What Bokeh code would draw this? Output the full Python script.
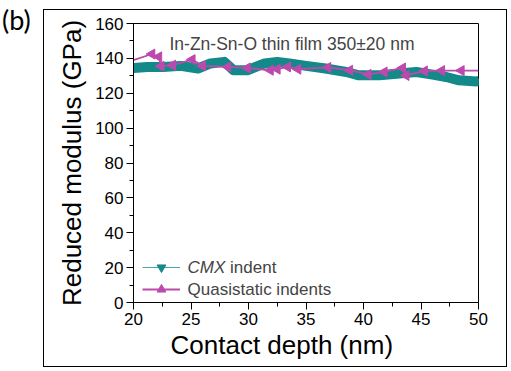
import math
from bokeh.plotting import figure
from bokeh.layouts import row
from bokeh.models import (Range1d, SingleIntervalTicker, Label, Legend, LegendItem, Div, Title)
from bokeh.core.properties import value
from bokeh.embed import file_html
from bokeh.resources import INLINE

# CMX indent (dense band, read as centre line)
cmx_depth = [20.0, 21.2, 22.6, 24.1, 25.6, 26.7, 27.9, 28.7, 29.9, 31.4, 32.5, 33.7,
             35.0, 36.7, 38.5, 39.6, 41.4, 43.1, 44.6, 46.0, 47.2, 48.3, 49.8, 50.0]
cmx_modulus = [134.5, 135.1, 135.0, 135.7, 134.2, 137.1, 138.0, 133.2, 133.2, 137.1, 138.0, 137.0,
               135.7, 134.2, 132.2, 130.3, 130.3, 131.3, 132.2, 130.7, 129.3, 127.4, 126.8, 127.0]

# Quasistatic indents
qs_depth = [20.0, 21.6, 22.2, 22.4, 23.4, 25.1, 26.0, 28.2, 29.9, 31.9, 32.5, 33.4,
            34.3, 36.9, 38.8, 40.4, 41.8, 43.4, 43.7, 45.3, 46.8, 48.5, 50.0]
qs_modulus = [139.0, 142.5, 140.9, 135.5, 136.1, 139.3, 135.7, 135.1, 134.5, 133.2, 133.8, 135.1,
              133.8, 134.8, 133.2, 130.8, 132.2, 134.5, 130.2, 132.8, 133.0, 133.0, 133.0]

TEAL = "#13898a"
MAG = "#bc4aac"
FONT = "Liberation Sans"

p = figure(width=464, height=358, output_backend="svg", toolbar_location=None,
           x_range=Range1d(20, 50), y_range=Range1d(0, 160),
           min_border_left=90, min_border_right=29, min_border_top=14, min_border_bottom=65,
           margin=(9, 0, 0, 0))
p.xgrid.visible = False
p.ygrid.visible = False
p.outline_line_color = "black"
p.outline_line_width = 1

for ax, ticker in ((p.xaxis[0], SingleIntervalTicker(interval=5, num_minor_ticks=2)),
                   (p.yaxis[0], SingleIntervalTicker(interval=20, num_minor_ticks=2))):
    ax.ticker = ticker
    ax.major_tick_in = 0
    ax.major_tick_out = 7
    ax.minor_tick_in = 0
    ax.minor_tick_out = 4
    ax.axis_line_color = "black"
    ax.major_tick_line_color = "black"
    ax.minor_tick_line_color = "black"
    ax.major_label_text_font = FONT
    ax.major_label_text_font_size = "17px"
    ax.major_label_text_color = "black"
    ax.major_label_standoff = 3

p.yaxis.axis_label = "Reduced modulus (GPa)"
p.yaxis.axis_label_text_font = FONT
p.yaxis.axis_label_text_font_size = "26px"
p.yaxis.axis_label_text_font_style = "normal"
p.yaxis.axis_label_text_color = "black"
p.yaxis.axis_label_standoff = 5

# x-axis label (left-shifted like the original)
p.add_layout(Title(text="Contact depth (nm)", align="left", offset=37, standoff=0,
                   text_font=FONT, text_font_size="26px", text_font_style="normal",
                   text_color="black"), "below")

# legend sources for CMX (hidden under the band)
cmx_leg_line = p.line(cmx_depth, cmx_modulus, line_width=1, line_color=TEAL, line_alpha=0.75)
cmx_leg_pts = p.scatter(cmx_depth, cmx_modulus, marker="inverted_triangle", size=7,
                        fill_color=TEAL, line_color=TEAL)
# data
p.line(cmx_depth, cmx_modulus, line_width=10, line_color=TEAL, line_join="round")
qs_line = p.line(qs_depth, qs_modulus, line_width=1.8, line_color=MAG)
qs_pts = p.scatter(qs_depth[1:-1], qs_modulus[1:-1], marker="triangle", angle=math.pi / 2,
                   size=10, fill_color=MAG, line_color=MAG)

legend = Legend(items=[LegendItem(label=value(""), renderers=[cmx_leg_line, cmx_leg_pts]),
                       LegendItem(label=value(""), renderers=[qs_line, qs_pts])],
                location=(9, 2), glyph_width=38, glyph_height=22, label_height=22,
                label_width=0, label_standoff=0, spacing=0, padding=0,
                background_fill_alpha=0, border_line_alpha=0)
p.add_layout(legend)

# legend texts
p.add_layout(Label(x=24.7, y=20.2, text="CMX", text_font=FONT, text_font_size="17px",
                   text_font_style="italic", text_baseline="middle"))
p.add_layout(Label(x=24.7, y=20.2, x_offset=42.5, text="indent", text_font=FONT,
                   text_font_size="17px", text_baseline="middle"))
p.add_layout(Label(x=24.7, y=7.45, text="Quasistatic indents", text_font=FONT,
                   text_font_size="17px", text_baseline="middle"))

# in-plot title
p.add_layout(Label(x=23.13, y=148.4, text="In-Zn-Sn-O thin film 350\u00b120 nm", text_font=FONT,
                   text_font_size="17.5px", text_baseline="alphabetic"))

panel = Div(text="(b)", width=43, height=50, margin=(0, 0, 0, 0),
            styles={"font-family": "Lato", "font-size": "27px", "padding-left": "2px",
                    "padding-top": "4px", "color": "black", "line-height": "1.2"})

frame_box = Div(text="", width=464, height=358, margin=(0, 0, 0, 0),
                styles={"position": "absolute", "left": "43px", "top": "9px",
                        "width": "464px", "height": "358px", "box-sizing": "border-box",
                        "border": "1px solid black", "pointer-events": "none",
                        "z-index": "10"})

layout = row(panel, p, frame_box)
open("out.html", "w").write(file_html(layout, INLINE))
